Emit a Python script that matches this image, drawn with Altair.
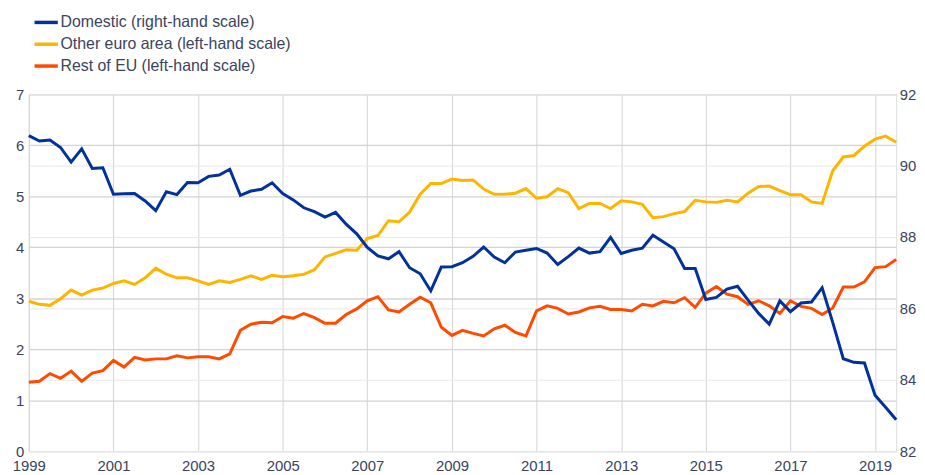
import altair as alt
import pandas as pd

# Quarterly periods 1999Q1 .. 2019Q3
periods = [f"{y}Q{q}" for y in range(1999, 2020) for q in range(1, 5)][:83]

domestic = [
    90.84, 90.69, 90.72, 90.51, 90.10, 90.47, 89.92, 89.94, 89.20, 89.21,
    89.22, 89.01, 88.74, 89.27, 89.19, 89.53, 89.52, 89.70, 89.74, 89.90,
    89.17, 89.29, 89.34, 89.52, 89.22, 89.04, 88.82, 88.71, 88.56, 88.69,
    88.36, 88.09, 87.71, 87.47, 87.39, 87.59, 87.14, 86.97, 86.49, 87.16,
    87.17, 87.28, 87.46, 87.72, 87.44, 87.28, 87.58, 87.63, 87.68, 87.55,
    87.23, 87.45, 87.69, 87.55, 87.59, 87.99, 87.54, 87.63, 87.69, 88.05,
    87.86, 87.67, 87.12, 87.12, 86.25, 86.31, 86.54, 86.62, 86.23, 85.86,
    85.56, 86.21, 85.91, 86.15, 86.18, 86.58, 85.61, 84.59, 84.49, 84.47,
    83.57, 83.23, 82.88,
]

other_euro = [
    2.94, 2.88, 2.86, 2.99, 3.16, 3.06, 3.16, 3.20, 3.29, 3.34,
    3.27, 3.40, 3.59, 3.47, 3.40, 3.40, 3.34, 3.27, 3.34, 3.31,
    3.37, 3.44, 3.37, 3.45, 3.42, 3.44, 3.47, 3.56, 3.81, 3.88,
    3.95, 3.94, 4.17, 4.23, 4.52, 4.50, 4.69, 5.04, 5.25, 5.25,
    5.34, 5.31, 5.32, 5.14, 5.04, 5.04, 5.06, 5.15, 4.96, 4.99,
    5.15, 5.07, 4.76, 4.86, 4.86, 4.76, 4.91, 4.89, 4.84, 4.58,
    4.60, 4.66, 4.70, 4.92, 4.89, 4.88, 4.92, 4.89, 5.06, 5.19,
    5.20, 5.11, 5.03, 5.03, 4.89, 4.86, 5.50, 5.77, 5.80, 5.98,
    6.12, 6.18, 6.06,
]

rest_eu = [
    1.35, 1.37, 1.52, 1.43, 1.57, 1.37, 1.53, 1.58, 1.78, 1.65,
    1.84, 1.79, 1.81, 1.81, 1.87, 1.83, 1.85, 1.85, 1.81, 1.91,
    2.37, 2.49, 2.53, 2.52, 2.64, 2.61, 2.70, 2.62, 2.51, 2.51,
    2.68, 2.79, 2.95, 3.03, 2.77, 2.73, 2.88, 3.02, 2.91, 2.43,
    2.27, 2.37, 2.31, 2.26, 2.40, 2.47, 2.33, 2.26, 2.75, 2.85,
    2.80, 2.69, 2.73, 2.81, 2.84, 2.78, 2.78, 2.75, 2.88, 2.85,
    2.94, 2.91, 3.01, 2.82, 3.10, 3.23, 3.08, 3.03, 2.88, 2.95,
    2.85, 2.70, 2.95, 2.84, 2.80, 2.68, 2.81, 3.22, 3.22, 3.32,
    3.60, 3.62, 3.76,
]

series_names = [
    "Domestic (right-hand scale)",
    "Other euro area (left-hand scale)",
    "Rest of EU (left-hand scale)",
]
series_colors = ["#003299", "#ffb400", "#ff4b00"]
year_ticks = list(range(1999, 2020, 2))
left_ticks = list(range(0, 8))
right_ticks = list(range(82, 93, 2))

def period_to_year(p):
    y, q = p.split("Q")
    return int(y) + (int(q) - 1) / 4

t = [period_to_year(p) for p in periods]

left_df = pd.concat([
    pd.DataFrame({"t": t, "value": other_euro, "series": series_names[1]}),
    pd.DataFrame({"t": t, "value": rest_eu, "series": series_names[2]}),
])
right_df = pd.DataFrame({"t": t, "value": domestic, "series": series_names[0]})

TEXT = "#3a4460"
FONT = "Liberation Sans"

color = alt.Color(
    "series:N",
    scale=alt.Scale(domain=series_names, range=series_colors),
    legend=alt.Legend(
        orient="none", legendX=4, legendY=-86, title=None,
        symbolType="stroke", symbolStrokeWidth=3.5, symbolSize=552,
        labelFontSize=16, labelColor=TEXT, labelFont=FONT, labelLimit=0,
        rowPadding=0, labelOffset=1, padding=0,
    ),
)

x = alt.X(
    "t:Q",
    scale=alt.Scale(domain=[1999, 2019.5], nice=False, zero=False),
    axis=alt.Axis(values=year_ticks, format="d", title=None, grid=True,
                  gridColor="#d4d4d4", domain=False, ticks=False,
                  labelPadding=8, labelFontSize=15, labelColor=TEXT,
                  labelFont=FONT, labelFlush=False),
)

left = alt.Chart(left_df).mark_line(strokeWidth=3).encode(
    x=x,
    y=alt.Y("value:Q", scale=alt.Scale(domain=[0, 7], nice=False),
            axis=alt.Axis(orient="left", values=left_ticks, title=None, grid=True,
                          gridColor="#d4d4d4", gridWidth=1.3, domain=False, ticks=False,
                          labelPadding=5, labelFontSize=15, labelColor=TEXT,
                          labelFont=FONT)),
    color=color,
    detail="series:N",
)

right = alt.Chart(right_df).mark_line(strokeWidth=3).encode(
    x=x,
    y=alt.Y("value:Q", scale=alt.Scale(domain=[82, 92], nice=False, zero=False),
            axis=alt.Axis(orient="right", values=right_ticks, title=None, grid=True,
                          gridColor="#e8e8e8", domain=False, ticks=False,
                          labelPadding=3, labelFontSize=15, labelColor=TEXT,
                          labelFont=FONT)),
    color=color,
)

chart = alt.layer(left, right).resolve_scale(y="independent").properties(
    width=875,
    height=360,
    autosize=alt.AutoSizeParams(type="none"),
    padding={"left": 21, "top": 85, "right": 21, "bottom": 22},
).configure_view(stroke=None).configure(background="white")

chart.save("out.html", embed_options={"renderer": "svg", "actions": False})
